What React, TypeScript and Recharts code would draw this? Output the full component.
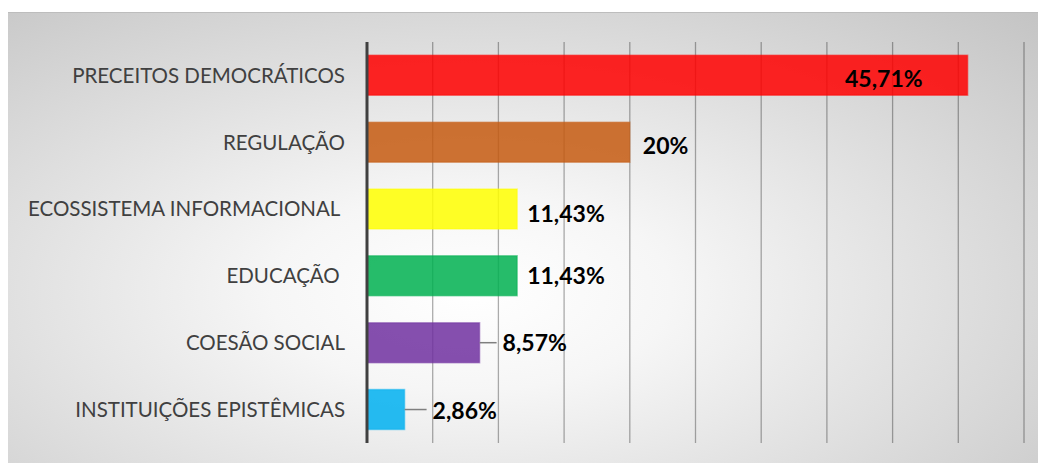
import { Bar, BarChart, CartesianGrid, Cell, LabelList, XAxis, YAxis } from "recharts";

const CATEGORIES = [
  "PRECEITOS DEMOCRÁTICOS",
  "REGULAÇÃO",
  "ECOSSISTEMA INFORMACIONAL ",
  "EDUCAÇÃO ",
  "COESÃO SOCIAL",
  "INSTITUIÇÕES EPISTÊMICAS",
];
const VALUES = [45.71, 20, 11.43, 11.43, 8.57, 2.86];
const VALUE_LABELS = ["45,71%", "20%", "11,43%", "11,43%", "8,57%", "2,86%"];
const COLORS = ["#FF0000", "#C55A11", "#FFFF00", "#00B050", "#7030A0", "#00B0F0"];
const TICKS = [0, 5, 10, 15, 20, 25, 30, 35, 40, 45, 50];

// label placement: gap from bar end (negative = inside), vertical nudge, leader line
const LABEL_GAP = [-45, 13, 10, 10, 23, 28];
const LABEL_DY = [3, 4, 5, 0, 0, 1.5];
const LEADER = [false, false, false, false, true, true];

const data = CATEGORIES.map((name, i) => ({ name, value: VALUES[i] }));

const FONT = "Lato, 'Open Sans', sans-serif";

function NoTick() {
  return <g />;
}

function CategoryTick(props: any) {
  const { x, y, payload } = props;
  return (
    <text
      x={x}
      y={y}
      dy="0.36em"
      textAnchor="end"
      fill="#404040"
      fontSize={20.5}
      fontFamily={FONT}
      xmlSpace="preserve"
      style={{ whiteSpace: "pre" }}
    >
      {payload.value}
    </text>
  );
}

function ValueLabel(props: any) {
  const { x, y, width, height, index } = props;
  const gap = LABEL_GAP[index];
  const end = x + width;
  const cy = y + height / 2;
  const inside = gap < 0;
  const tx = end + gap;
  return (
    <g>
      {LEADER[index] && (
        <line x1={end} y1={cy} x2={tx - 6} y2={cy} stroke="#7f7f7f" strokeWidth={1.5} />
      )}
      <text
        x={tx}
        y={cy + LABEL_DY[index]}
        dy="0.36em"
        textAnchor={inside ? "end" : "start"}
        fill="#000"
        fontWeight="bold"
        fontSize={23}
        fontFamily={FONT}
      >
        {VALUE_LABELS[index]}
      </text>
    </g>
  );
}

export default function App() {
  return (
    <div
      style={{
        position: "absolute",
        left: 8,
        top: 12,
        width: 1030,
        height: 451,
        borderTop: "1px solid #bdbdbd",
        boxSizing: "border-box",
        background:
          "radial-gradient(ellipse at 45% 62%, #ffffff 0%, #f6f6f6 25%, #c4c4c4 100%)",
      }}
    >
      <BarChart
        width={1030}
        height={450}
        data={data}
        layout="vertical"
        margin={{ top: 29, right: 14, bottom: 20, left: 0 }}
        barCategoryGap="20%"
      >
        <CartesianGrid
          horizontal={false}
          stroke="#000"
          strokeOpacity={0.32}
          strokeWidth={1.3}
        />
        <XAxis
          type="number"
          domain={[0, 50]}
          ticks={TICKS}
          interval={0}
          height={0}
          tick={<NoTick />}
          axisLine={false}
          tickLine={false}
        />
        <YAxis
          type="category"
          dataKey="name"
          width={359}
          tickSize={0}
          tickMargin={22}
          tickLine={false}
          axisLine={{ stroke: "#404040", strokeWidth: 3 }}
          tick={<CategoryTick />}
        />
        <Bar dataKey="value" isAnimationActive={false}>
          {data.map((d, i) => (
            <Cell
              key={d.name}
              fill={COLORS[i]}
              fillOpacity={0.85}
              stroke={COLORS[i]}
              strokeOpacity={0.45}
              strokeWidth={1.5}
            />
          ))}
          <LabelList dataKey="value" content={<ValueLabel />} />
        </Bar>
      </BarChart>
    </div>
  );
}
